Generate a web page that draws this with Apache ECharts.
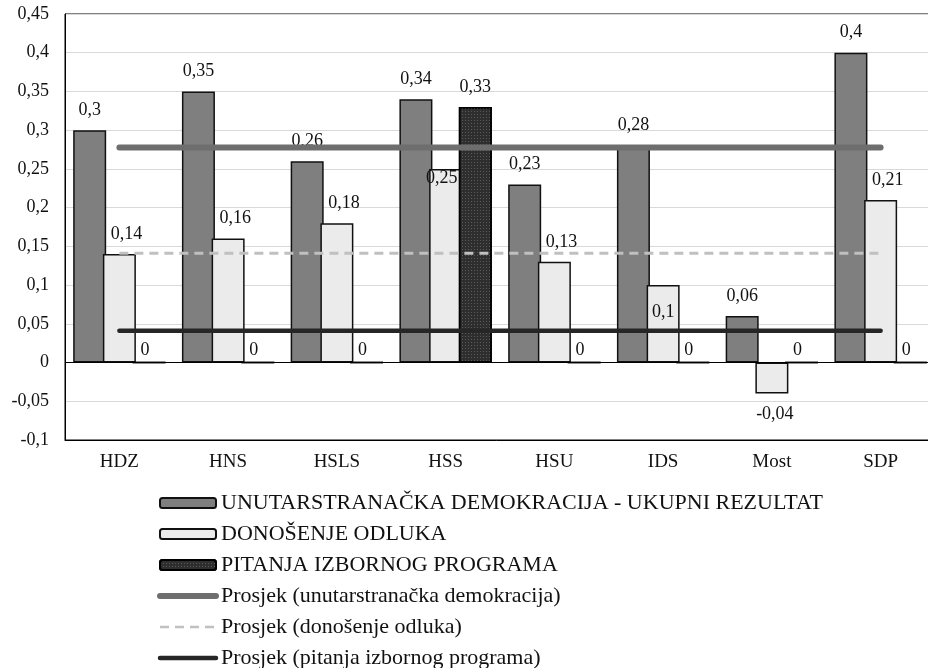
<!DOCTYPE html>
<html>
<head>
<meta charset="utf-8">
<script src="https://cdn.jsdelivr.net/npm/echarts@6/dist/echarts.min.js"></script>
<style>
  html, body { margin: 0; padding: 0; background: #fff; }
  #chart { width: 928px; height: 668px; }
</style>
</head>
<body>
<div id="chart"></div>
<script>
var categories = ["HDZ", "HNS", "HSLS", "HSS", "HSU", "IDS", "Most", "SDP"];
var demokracija = [0.3, 0.35, 0.26, 0.34, 0.23, 0.28, 0.06, 0.4];
var odluke = [0.14, 0.16, 0.18, 0.25, 0.13, 0.1, -0.04, 0.21];
var program = [0, 0, 0, 0.33, 0, 0, 0, 0];
var avgDemokracija = [0.2775, 0.2775, 0.2775, 0.2775, 0.2775, 0.2775, 0.2775, 0.2775];
var avgOdluke = [0.141, 0.141, 0.141, 0.141, 0.141, 0.141, 0.141, 0.141];
var avgProgram = [0.041, 0.041, 0.041, 0.041, 0.041, 0.041, 0.041, 0.041];

var seriesNames = [
    "UNUTARSTRANAČKA DEMOKRACIJA - UKUPNI REZULTAT",
    "DONOŠENJE ODLUKA",
    "PITANJA IZBORNOG PROGRAMA",
    "Prosjek (unutarstranačka demokracija)",
    "Prosjek (donošenje odluka)",
    "Prosjek (pitanja izbornog programa)"
];

var serif = "Liberation Serif";

function fmt(v) {
    return parseFloat(Number(v).toFixed(2)).toString().replace(".", ",");
}

var labelStyle = {
    show: true,
    position: "top",
    distance: 11,
    fontFamily: serif,
    fontSize: 18,
    color: "#111",
    formatter: function (p) { return fmt(p.value); }
};

// odluke: a few labels sit inside or below the bar in the original
var odlukeData = odluke.map(function (v, i) {
    var item = { value: v, label: { offset: [7, 0] } };
    if (categories[i] === "HSS") item.label = { position: "insideTop", distance: 0, offset: [-4, 0] };
    if (categories[i] === "IDS") item.label = { position: "insideTop", distance: 18, offset: [0, 0] };
    if (v < 0) item.label = { position: "bottom", distance: 12, offset: [3, 0] };
    return item;
});

var programData = program.map(function (v) {
    if (v === 0) return { value: v, label: { distance: 3, offset: [-4, 0] } };
    return v;
});

var chart = echarts.init(document.getElementById("chart"));

var option = {
    animation: false,
    backgroundColor: "#fff",
    grid: {
        left: 65,
        top: 14,
        width: 870,
        height: 426,
        outerBoundsMode: "none",
        show: true,
        borderColor: "#000",
        borderWidth: 1
    },
    legend: {
        orient: "vertical",
        left: 157,
        top: 492,
        height: 200,
        padding: 0,
        itemWidth: 56,
        itemHeight: 10,
        itemGap: 9,
        textStyle: { fontFamily: serif, fontSize: 22, color: "#111", lineHeight: 22 },
        data: [
            { name: seriesNames[0] },
            { name: seriesNames[1] },
            { name: seriesNames[2] },
            { name: seriesNames[3], itemStyle: { opacity: 0 }, lineStyle: { width: 6 } },
            { name: seriesNames[4], itemStyle: { opacity: 0 }, lineStyle: { width: 2.5 } },
            { name: seriesNames[5], itemStyle: { opacity: 0 }, lineStyle: { width: 4.5 } }
        ]
    },
    xAxis: {
        type: "category",
        data: categories,
        axisLine: { onZero: false, lineStyle: { color: "#000", width: 1 } },
        axisTick: { show: false },
        axisLabel: { fontFamily: serif, fontSize: 19, color: "#111", margin: 13 }
    },
    yAxis: {
        type: "value",
        min: -0.1,
        max: 0.45,
        interval: 0.05,
        axisLine: { show: true, lineStyle: { color: "#000" } },
        axisTick: { show: false },
        axisLabel: {
            fontFamily: serif, fontSize: 18, color: "#111", margin: 16,
            formatter: fmt
        },
        splitLine: { lineStyle: { color: "#d9d9d9", width: 1 } }
    },
    series: [
        {
            name: seriesNames[0],
            type: "bar",
            data: demokracija,
            barWidth: 33,
            barGap: "-10%",
            itemStyle: { color: "#7f7f7f", borderColor: "#111", borderWidth: 1.5 },
            label: labelStyle,
            markLine: {
                silent: true,
                symbol: ["none", "none"],
                label: { show: false },
                lineStyle: { color: "#000", type: "solid", width: 1 },
                data: [{ yAxis: 0 }]
            }
        },
        {
            name: seriesNames[1],
            type: "bar",
            data: odlukeData,
            barWidth: 33,
            barGap: "-10%",
            itemStyle: { color: "#ebebeb", borderColor: "#111", borderWidth: 1.5 },
            label: labelStyle
        },
        {
            name: seriesNames[2],
            type: "bar",
            data: programData,
            barWidth: 33,
            barGap: "-10%",
            itemStyle: {
                color: "#2e2e2e",
                borderColor: "#000",
                borderWidth: 1.5,
                decal: {
                    symbol: "rect",
                    symbolSize: 1,
                    color: "rgba(110,110,110,0.7)",
                    dashArrayX: [1, 2],
                    dashArrayY: [1, 2]
                }
            },
            label: labelStyle
        },
        {
            name: seriesNames[3],
            type: "line",
            data: avgDemokracija,
            symbol: "none",
            lineStyle: { color: "#6e6e6e", width: 6, cap: "round" },
            itemStyle: { color: "#6e6e6e" }
        },
        {
            name: seriesNames[4],
            type: "line",
            data: avgOdluke,
            symbol: "none",
            lineStyle: { color: "#c0c0c0", width: 3, type: [9, 6] },
            itemStyle: { color: "#c0c0c0" }
        },
        {
            name: seriesNames[5],
            type: "line",
            data: avgProgram,
            symbol: "none",
            lineStyle: { color: "#262626", width: 4.5, cap: "round" },
            itemStyle: { color: "#262626" }
        }
    ]
};

chart.setOption(option);
</script>
</body>
</html>
